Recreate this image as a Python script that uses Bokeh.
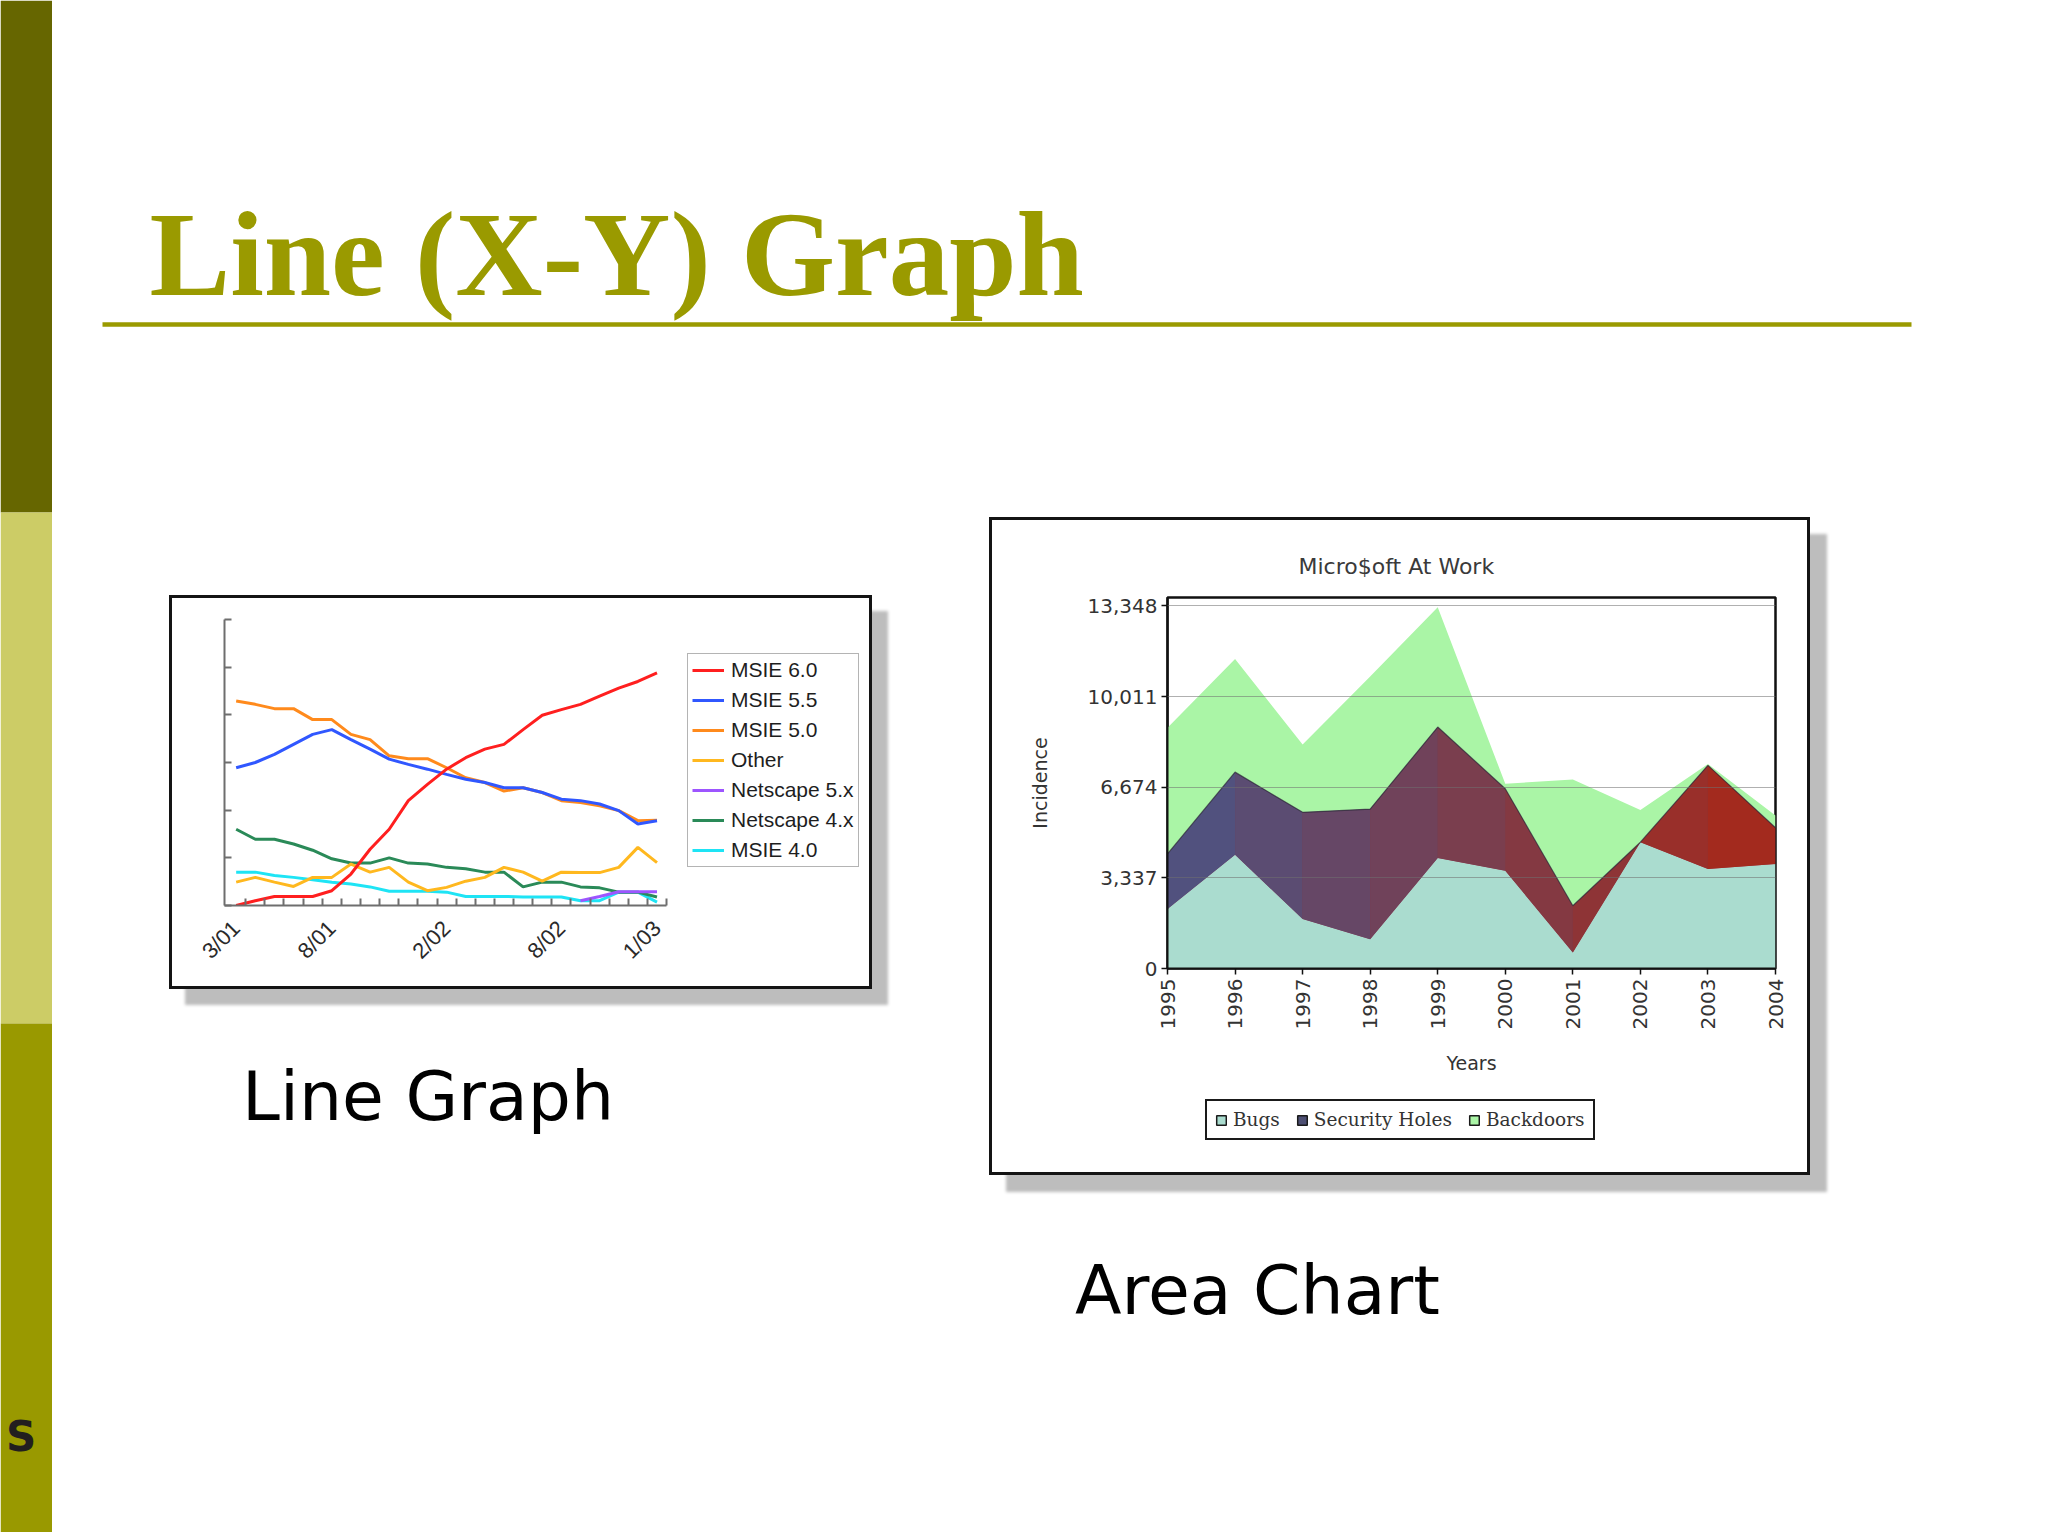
import math
import numpy as np
from bokeh.plotting import figure
from bokeh.models import (Range1d, FixedTicker, Legend, LegendItem, Spacer,
                          ColumnDataSource, NumeralTickFormatter)
from bokeh.layouts import row, column
from bokeh.core.properties import value
from bokeh.embed import file_html
from bokeh.resources import INLINE

NaN = float("nan")

# ---------------- data: line graph (browser share, %) ----------------
months = ["3/01", "4/01", "5/01", "6/01", "7/01", "8/01", "9/01", "10/01", "11/01",
          "12/01", "1/02", "2/02", "3/02", "4/02", "5/02", "6/02", "7/02", "8/02",
          "9/02", "10/02", "11/02", "12/02", "1/03"]
month_labels = ["3/01", "8/01", "2/02", "8/02", "1/03"]
share_ticks = [0, 10, 20, 30, 40, 50, 60]

msie_60 = [0, 1.0, 1.9, 1.9, 1.9, 3.1, 6.6, 11.8, 16.0, 22.0, 25.4, 28.6, 31.0, 32.8,
           33.8, 36.9, 39.9, 41.1, 42.2, 43.9, 45.6, 47.0, 48.8]
msie_55 = [28.9, 30.0, 31.7, 33.8, 35.9, 36.9, 34.8, 32.8, 30.7, 29.6, 28.6, 27.5, 26.5,
           25.8, 24.7, 24.7, 23.7, 22.3, 22.0, 21.3, 19.9, 17.1, 17.8]
msie_50 = [42.9, 42.2, 41.3, 41.3, 39.0, 39.0, 35.9, 34.8, 31.4, 30.8, 30.8, 28.9, 26.8,
           25.8, 24.0, 24.7, 23.7, 22.0, 21.6, 20.9, 19.9, 17.8, 17.9]
other = [4.9, 5.9, 4.9, 4.0, 5.9, 5.9, 8.7, 7.0, 8.0, 4.9, 3.1, 3.8, 5.1, 5.9, 8.0, 7.0,
         5.1, 7.0, 6.9, 6.9, 8.0, 12.2, 9.0]
netscape_5x = [NaN] * 18 + [1.0, 1.9, 2.9, 2.9, 2.9]
netscape_4x = [16.0, 13.9, 13.9, 12.9, 11.6, 9.8, 8.9, 8.9, 10.0, 8.9, 8.7, 8.0, 7.7, 7.0,
               7.0, 3.9, 4.9, 4.9, 3.9, 3.7, 2.8, 2.8, 1.8]
msie_40 = [7.0, 7.0, 6.3, 5.9, 5.4, 4.9, 4.5, 3.9, 3.0, 3.0, 3.0, 2.8, 1.9, 1.9, 1.9, 1.8,
           1.8, 1.8, 1.0, 1.0, 2.8, 2.8, 0.7]

line_series = ["MSIE 6.0", "MSIE 5.5", "MSIE 5.0", "Other", "Netscape 5.x",
               "Netscape 4.x", "MSIE 4.0"]
line_values = [msie_60, msie_55, msie_50, other, netscape_5x, netscape_4x, msie_40]
line_colors = ["#ff1f1f", "#3057ff", "#ff8a1c", "#ffb81f", "#9d55ff", "#2a8a58", "#1ee4f5"]

# ---------------- data: area chart ----------------
years = [1995, 1996, 1997, 1998, 1999, 2000, 2001, 2002, 2003, 2004]
bugs = [2190, 4190, 1820, 1080, 4070, 3600, 590, 4650, 3660, 3850]
security_holes = [2030, 3040, 3930, 4790, 4820, 3020, 1720, 0, 3820, 1330]
backdoors = [4640, 4170, 2500, 4880, 4410, 180, 4650, 1190, 50, 450]
incidence_ticks = [0, 3337, 6674, 10011, 13348]
area_series = ["Bugs", "Security Holes", "Backdoors"]

# ---------------- style ----------------
OLIVE = "#9a9a00"
BAR_COLORS = ["#666600", "#cccc66", "#999900"]
C_BUGS = "#aadccf"
C_BACK = "#aaf5a6"
C_SEC_LEG = "#4d4f73"
GRAD_A = (0x4c, 0x53, 0x84)
GRAD_B = (0xa8, 0x28, 0x18)
PAGE_H = 1532
BOX_LINE = {"outline": "3px solid #141414", "box-shadow": "16px 16px 3px 3px #bdbdbd"}
BOX_AREA = {"outline": "3px solid #141414", "box-shadow": "17px 17px 3px 3px #bdbdbd"}


def mix(t):
    r, g, b = (int(round(a + (b_ - a) * t)) for a, b_ in zip(GRAD_A, GRAD_B))
    return "#%02x%02x%02x" % (r, g, b)


def plain_fig(w, h, xr, yr, fill=None):
    f = figure(width=w, height=h, x_range=xr, y_range=yr, output_backend="svg",
               toolbar_location=None, x_axis_location=None, y_axis_location=None,
               min_border=0, background_fill_color=fill, border_fill_color=fill,
               outline_line_color=None)
    f.grid.visible = False
    return f


# ---------------- left decorative bar ----------------
bar = plain_fig(52, PAGE_H, Range1d(0, 52), Range1d(PAGE_H, 0))
bar.quad(left=0, right=52, top=[0, 512, 1023], bottom=[512, 1023, 1536],
         fill_color=BAR_COLORS, line_color=None)
bar.text(x=[20.5], y=[1436], text=["S"], text_font=value("DejaVu Sans"),
         text_font_style="bold", text_font_size=value("42px"), text_align="center",
         text_baseline="alphabetic", text_color="#221e1f")

# ---------------- slide title ----------------
tfig = plain_fig(1988, 500, Range1d(52, 2040), Range1d(500, 0))
tfig.segment(x0=[102], y0=[324], x1=[1911], y1=[324], line_color=OLIVE, line_width=4.5)
tfig.text(x=[149], y=[253], text=["Line (X-Y) Graph"], text_font=value("Liberation Serif"),
          text_font_style="bold", text_font_size=value("121px"), text_color=OLIVE,
          text_baseline="alphabetic", text_align="left")

# ---------------- line chart ----------------
# frame extends to the right so the legend sits inside it; the x axis is bounded to the data span
X_START, X_AXIS_END = -0.61, 22.5
lp = figure(width=697, height=388, x_range=Range1d(X_START, 32.9), y_range=Range1d(0, 60),
            output_backend="svg", toolbar_location=None,
            min_border_left=52, min_border_right=4, min_border_top=21, min_border_bottom=81,
            background_fill_color="white", border_fill_color="white", outline_line_color=None,
            styles=BOX_LINE)
lp.grid.visible = False
x_idx = list(range(len(months)))
rends = {}
for name, vals, col in reversed(list(zip(line_series, line_values, line_colors))):
    rends[name] = lp.line(x_idx, vals, line_color=col, line_width=3)

xa = lp.xaxis[0]
xa.bounds = (X_START, X_AXIS_END)
xa.ticker = FixedTicker(ticks=[months.index(m) for m in month_labels],
                        minor_ticks=[i + 0.5 for i in range(len(months))])
xa.major_label_overrides = {months.index(m): m for m in month_labels}
xa.major_label_orientation = math.pi / 4
xa.major_tick_in = 0
xa.major_tick_out = 0
xa.minor_tick_in = 7
xa.minor_tick_out = 0
xa.minor_tick_line_color = "#6e6e6e"
xa.minor_tick_line_width = 2
xa.axis_line_color = "#6e6e6e"
xa.axis_line_width = 2
xa.major_label_text_font = "Liberation Sans"
xa.major_label_text_font_size = "22px"
xa.major_label_text_color = "#2a2a2a"
xa.major_label_standoff = 19

ya = lp.yaxis[0]
# unlabeled share ticks: drawn as label-less minor ticks pointing inward
ya.ticker = FixedTicker(ticks=[], minor_ticks=share_ticks)
ya.minor_tick_in = 7
ya.minor_tick_out = 0
ya.minor_tick_line_color = "#6e6e6e"
ya.minor_tick_line_width = 2
ya.axis_line_color = "#6e6e6e"
ya.axis_line_width = 2

leg = Legend(items=[LegendItem(label=n, renderers=[rends[n]]) for n in line_series],
             location=(463, 38), margin=0, padding=4, spacing=6, glyph_width=32,
             glyph_height=20, label_standoff=7, label_text_font="Liberation Sans",
             label_text_font_size="21px", label_text_color="#1e1e1e",
             border_line_color="#b4b4b4", border_line_width=1.5, border_line_alpha=1.0,
             background_fill_color="white", background_fill_alpha=1.0)
lp.add_layout(leg)

# ---------------- area chart ----------------
ap = figure(width=815, height=575, x_range=Range1d(years[0], years[-1]),
            y_range=Range1d(0, 13660), output_backend="svg", toolbar_location=None,
            min_border_left=175, min_border_right=32, min_border_top=77, min_border_bottom=127,
            background_fill_color="white", border_fill_color="white",
            outline_line_color="#111111", outline_line_width=2.5,
            title="Micro$oft At Work")
src = ColumnDataSource(dict(year=years, bugs=bugs, security=security_holes, backdoors=backdoors))
ap.varea_stack(["bugs", "security", "backdoors"], x="year", source=src,
               fill_color=[C_BUGS, mix(0.5), C_BACK])
lower = np.array(bugs, dtype=float)
upper = lower + np.array(security_holes, dtype=float)
nseg = len(years) - 1
for k in range(nseg):
    ap.varea(x=years[k:k + 2], y1=lower[k:k + 2], y2=upper[k:k + 2],
             fill_color=mix((k + 0.5) / nseg))
ap.line(years, upper, line_color="#2a2a38", line_width=1.2, line_alpha=0.7)

ap.xgrid.visible = False
ap.ygrid.ticker = FixedTicker(ticks=incidence_ticks, minor_ticks=[])
ap.ygrid.grid_line_color = "#6f6f6f"
ap.ygrid.grid_line_alpha = 0.55
ap.ygrid.level = "annotation"

yb = ap.yaxis[0]
yb.ticker = FixedTicker(ticks=incidence_ticks, minor_ticks=[])
yb.formatter = NumeralTickFormatter(format="0,0")
yb.major_label_text_font = "DejaVu Sans"
yb.major_label_text_font_size = "20px"
yb.major_label_text_color = "#333333"
yb.major_tick_out = 6
yb.major_tick_in = 0
yb.major_tick_line_color = "#111111"
yb.major_tick_line_width = 1.5
yb.axis_line_color = "#111111"
yb.axis_line_width = 2
yb.major_label_standoff = 4
yb.axis_label = "Incidence"
yb.axis_label_text_font = "DejaVu Sans"
yb.axis_label_text_font_size = "19px"
yb.axis_label_text_font_style = "normal"
yb.axis_label_text_color = "#333333"
yb.axis_label_standoff = 34

xb = ap.xaxis[0]
xb.ticker = FixedTicker(ticks=years, minor_ticks=[])
xb.major_label_orientation = math.pi / 2
xb.major_label_text_font = "DejaVu Sans"
xb.major_label_text_font_size = "20px"
xb.major_label_text_color = "#333333"
xb.major_tick_out = 6
xb.major_tick_in = 0
xb.major_tick_line_color = "#111111"
xb.major_tick_line_width = 1.5
xb.axis_line_color = "#111111"
xb.axis_line_width = 2
xb.major_label_standoff = 4
xb.axis_label = "Years"
xb.axis_label_text_font = "DejaVu Sans"
xb.axis_label_text_font_size = "19px"
xb.axis_label_text_font_style = "normal"
xb.axis_label_text_color = "#333333"
xb.axis_label_standoff = 20

ap.title.text_font = "DejaVu Sans"
ap.title.text_font_size = "22px"
ap.title.text_font_style = "normal"
ap.title.text_color = "#3a3a3a"
ap.title.align = "left"
ap.title.offset = 131
if "standoff" in ap.title.properties():
    ap.title.standoff = 37

# legend strip of the area chart (own canvas directly under the chart, inside the same box);
# its frame is aligned with the chart frame by the column layout
lg = plain_fig(815, 77, Range1d(0, 1), Range1d(0, 1), fill="white")
qs = [lg.quad(left=[NaN], right=[NaN], top=[NaN], bottom=[NaN], fill_color=c,
              line_color="#1a1a1a", line_width=1.5) for c in [C_BUGS, C_SEC_LEG, C_BACK]]
leg2 = Legend(items=[LegendItem(label=n, renderers=[q]) for n, q in zip(area_series, qs)],
              orientation="horizontal", location=(38, 32), margin=0, padding=8,
              spacing=16, glyph_width=12, glyph_height=12, label_standoff=6,
              label_text_font="DejaVu Serif", label_text_font_size="18.5px",
              label_text_color="#333333", border_line_color="#1a1a1a",
              border_line_width=2, border_line_alpha=1.0,
              background_fill_color="white", background_fill_alpha=1.0)
lg.add_layout(leg2)
area_box = column(ap, lg, styles=BOX_AREA)

# ---------------- captions ----------------
cap_l = plain_fig(940, PAGE_H - 986, Range1d(52, 992), Range1d(PAGE_H, 986))
cap_l.text(x=[241.6], y=[1096], text=["Line Graph"], text_font=value("DejaVu Sans"),
           text_font_size=value("68px"), text_color="#000000", text_baseline="alphabetic",
           text_align="left")
cap_r = plain_fig(815, PAGE_H - 1172, Range1d(992, 1807), Range1d(PAGE_H, 1172))
cap_r.text(x=[1074.5], y=[1290], text=["Area Chart"], text_font=value("DejaVu Sans"),
           text_font_size=value("68px"), text_color="#000000", text_baseline="alphabetic",
           text_align="left")

# ---------------- layout ----------------
left_block = column(Spacer(width=940, height=98),
                    row(Spacer(width=120, height=388), lp, Spacer(width=123, height=388)),
                    cap_l)
right_block = column(Spacer(width=815, height=20), area_box, cap_r)
layout = row(bar, column(tfig, row(left_block, right_block)))

open("out.html", "w").write(file_html(layout, INLINE, title="Line (X-Y) Graph"))
